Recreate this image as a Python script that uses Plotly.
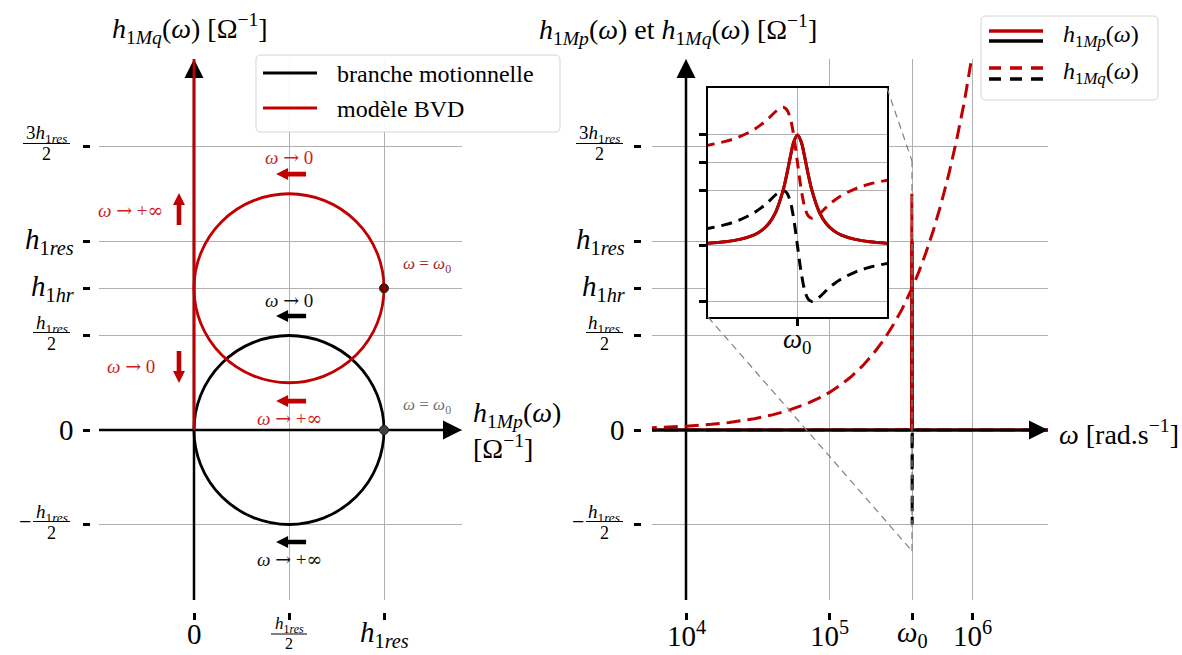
import math
import plotly.graph_objects as go

W, H = 1182, 655
FONT = "Liberation Serif, DejaVu Serif, serif"
RED = "#c00000"
BLACK = "#000000"
GRID = "#b0b0b0"

# ---------------------------------------------------------------- data
OMEGA0 = 3.76e5          # resonance pulsation [rad/s]

# Nyquist plot: circles (centre x, centre y, radius) -> motional, BVD
circle_cx = [0.5, 0.5]
circle_cy = [0.0, 0.75]
circle_r = [0.5, 0.5]
circle_col = [BLACK, RED]
# BVD branch along the imaginary axis (omega -> 0 and omega -> +inf)
bvd_branch_x = [0.0, 0.0]
bvd_branch_y = [0.0, 2.0]
# points reached at omega = omega0
res_pt_x = [1.0, 1.0]
res_pt_y = [0.0, 0.75]

nyq_xtick_vals = [0.0, 0.5, 1.0]
nyq_ytick_vals = [-0.5, 0.0, 0.5, 0.75, 1.0, 1.5]

L_H1RES = "<i>h</i><sub>1<i>res</i></sub>"
L_H1HR = "<i>h</i><sub>1<i>hr</i></sub>"
L_W0 = "<i>ω</i><sub>0</sub>"
nyq_xtick_text = ["0", ("", L_H1RES, "2"), L_H1RES]
nyq_ytick_text = [("−", L_H1RES, "2"), "0", ("", L_H1RES, "2"), L_H1HR, L_H1RES,
                  ("", "3" + L_H1RES, "2")]

# frequency response (units of h_1res)
omega = [5.0e3, 7.0e3, 1.0e4, 1.5e4, 2.0e4, 3.0e4, 4.0e4, 5.0e4, 6.0e4, 7.0e4,
         8.5e4, 1.0e5, 1.2e5, 1.4e5, 1.7e5, 2.0e5, 2.4e5, 2.8e5, 3.2e5, 3.5e5,
         3.74e5, 3.75e5, 3.76e5, 3.77e5, 3.78e5,
         4.2e5, 4.7e5, 5.3e5, 6.0e5, 6.8e5, 7.7e5, 8.7e5, 1.0e6, 1.1e6, 2.0e6, 3.5e6]
h1mp = [0, 0, 0, 0, 0, 0, 0, 0, 0, 0,
        0, 0, 0, 0, 0, 0, 0, 0, 0, 0,
        0, 0.5, 1.0, 0.5, 0,
        0, 0, 0, 0, 0, 0, 0, 0, 0, 0, 0]
h1mq_mot = [0, 0, 0, 0, 0, 0, 0, 0, 0, 0,
            0, 0, 0, 0, 0, 0, 0, 0, 0, 0,
            0, 0.5, 0.0, -0.5, 0,
            0, 0, 0, 0, 0, 0, 0, 0, 0, 0, 0]
h1mq_bvd = [0.010, 0.014, 0.020, 0.030, 0.040, 0.060, 0.080, 0.100, 0.120, 0.140,
            0.170, 0.199, 0.239, 0.279, 0.339, 0.399, 0.479, 0.559, 0.638, 0.698,
            0.746, 1.250, 0.750, 0.250, 0.754,
            0.838, 0.938, 1.057, 1.197, 1.356, 1.536, 1.735, 1.995, 2.194, 3.989, 6.980]

bode_xtick_vals = [1e4, 1e5, OMEGA0, 1e6]
bode_xtick_text = ["10<sup>4</sup>", "10<sup>5</sup>", L_W0, "10<sup>6</sup>"]
bode_ytick_vals = nyq_ytick_vals
bode_ytick_text = nyq_ytick_text

# inset: zoom around omega0 (normalised detuning)
inset_u = [-6.5, -5, -4, -3, -2.5, -2, -1.5, -1, -0.75, -0.5, -0.25, 0,
           0.25, 0.5, 0.75, 1, 1.5, 2, 2.5, 3, 4, 5, 6.5]
inset_h1mp = [0.023, 0.038, 0.059, 0.100, 0.138, 0.200, 0.308, 0.500, 0.640, 0.800, 0.941, 1.000,
              0.941, 0.800, 0.640, 0.500, 0.308, 0.200, 0.138, 0.100, 0.059, 0.038, 0.023]
inset_h1mq_mot = [0.150, 0.192, 0.235, 0.300, 0.345, 0.400, 0.462, 0.500, 0.480, 0.400, 0.235, 0.000,
                  -0.235, -0.400, -0.480, -0.500, -0.462, -0.400, -0.345, -0.300, -0.235, -0.192, -0.150]
inset_h1mq_bvd = [0.900, 0.942, 0.985, 1.050, 1.095, 1.150, 1.212, 1.250, 1.230, 1.150, 0.985, 0.750,
                  0.515, 0.350, 0.270, 0.250, 0.288, 0.350, 0.405, 0.450, 0.515, 0.558, 0.600]
inset_xtick_vals = [0.0]
inset_xtick_text = [L_W0]
inset_ytick_vals = [-0.5, 0.0, 0.5, 0.75, 1.0]

# ---------------------------------------------------------------- geometry
def px_x(px):
    return px / W


def px_y(py):
    return 1 - py / H


XL_RANGE = [-0.5, 1.4105]
Y_RANGE = [-0.8995, 1.963]
XR_RANGE = [3.763, 6.523]
XI_RANGE = [-6.2, 6.2]
YI_RANGE = [-0.64, 1.423]

XL_DOM = [px_x(99), px_x(462)]
XR_DOM = [px_x(652), px_x(1048)]
Y_DOM = [px_y(600), px_y(59)]
XI_DOM = [px_x(708), px_x(887)]
YI_DOM = [px_y(317), px_y(88)]

annotations = []
shapes = []

ARROW = "<span style=\"font-family:DejaVu Serif\">→</span>"
INF = "<span style=\"font-family:DejaVu Serif\">∞</span>"
T_W_TO_0 = "<i>ω</i> " + ARROW + " 0"
T_W_TO_INF = "<i>ω</i> " + ARROW + " +" + INF
T_W_EQ_W0 = "<i>ω</i> = <i>ω</i><sub>0</sub>"


def add_text(x, y, text, size, color=BLACK, xref="paper", yref="paper",
             xanchor="center", yanchor="middle", align="center", yshift=0):
    annotations.append(dict(x=x, y=y, xref=xref, yref=yref, text=text, showarrow=False,
                            font=dict(family=FONT, size=size, color=color),
                            xanchor=xanchor, yanchor=yanchor, align=align, yshift=yshift,
                            borderpad=0))


def poly_path(pts):
    return "M " + " L ".join(f"{a:.2f} {b:.2f}" for a, b in pts) + " Z"


def tri(direction, L=19, hw=9.5):
    if direction == "up":
        return poly_path([(-hw, -L), (hw, -L), (0, 0)])
    return poly_path([(-L, -hw), (-L, hw), (0, 0)])


def fancy(direction, L=30, hl=12, hw=6, bw=2.3):
    if direction == "left":
        pts = [(0, 0), (hl, hw), (hl, bw), (L, bw), (L, -bw), (hl, -bw), (hl, -hw)]
    elif direction == "up":
        pts = [(0, 0), (hw, -hl), (bw, -hl), (bw, -L), (-bw, -L), (-bw, -hl), (-hw, -hl)]
    else:
        pts = [(0, 0), (hw, hl), (bw, hl), (bw, L), (-bw, L), (-bw, hl), (-hw, hl)]
    return poly_path(pts)


def pix_shape(xref, yref, x, y, path, color, layer="above"):
    shapes.append(dict(type="path", xref=xref, yref=yref, xsizemode="pixel", ysizemode="pixel",
                       xanchor=x, yanchor=y, path=path, fillcolor=color,
                       line=dict(width=0), layer=layer))


FRAC_SIZE = 19


def y_tick_labels(yref, vals, texts, right_px, frac_right_px):
    for v, t in zip(vals, texts):
        if isinstance(t, tuple):
            sign, num, den = t
            barw = 47 if num.startswith("3") else 37
            cx = px_x(frac_right_px - barw / 2)
            add_text(cx, v, num, FRAC_SIZE, yref=yref, yshift=12)
            add_text(cx, v, den, FRAC_SIZE - 1, yref=yref, yshift=-8)
            shapes.append(dict(type="line", xref="paper", yref=yref,
                               x0=px_x(frac_right_px - barw), x1=px_x(frac_right_px),
                               ysizemode="pixel", yanchor=v, y0=3, y1=3,
                               line=dict(color=BLACK, width=1.2)))
            if sign:
                add_text(px_x(frac_right_px - barw - 1), v, sign, 22, yref=yref,
                         xanchor="right", yshift=3)
        else:
            add_text(px_x(right_px), v, t, 29, yref=yref, xanchor="right")


def x_tick_labels(xref, vals, texts, log=False):
    for v, t in zip(vals, texts):
        xv = math.log10(v) if log else v
        if isinstance(t, tuple):
            sign, num, den = t
            add_text(xv, px_y(625), num, 17, xref=xref)
            add_text(xv, px_y(643), den, 16, xref=xref)
            shapes.append(dict(type="line", xref=xref, yref="paper", xsizemode="pixel",
                               xanchor=v, x0=-18, x1=18, y0=px_y(634), y1=px_y(634),
                               line=dict(color=BLACK, width=1.2)))
        else:
            add_text(xv, px_y(634), t, 29, xref=xref)


def rounded_box(x0, y0, x1, y1, r=5):
    p = lambda a, b: f"{px_x(a):.5f},{px_y(b):.5f}"
    return (f"M {p(x0 + r, y0)} L {p(x1 - r, y0)} Q {p(x1, y0)} {p(x1, y0 + r)} "
            f"L {p(x1, y1 - r)} Q {p(x1, y1)} {p(x1 - r, y1)} L {p(x0 + r, y1)} "
            f"Q {p(x0, y1)} {p(x0, y1 - r)} L {p(x0, y0 + r)} Q {p(x0, y0)} {p(x0 + r, y0)} Z")


# ---------------------------------------------------------------- traces
traces = []
# left: Nyquist
traces.append(go.Scatter(x=bvd_branch_x, y=bvd_branch_y, mode="lines",
                         line=dict(color=RED, width=2.8), xaxis="x", yaxis="y", hoverinfo="skip"))
traces.append(go.Scatter(x=res_pt_x, y=res_pt_y, mode="markers",
                         marker=dict(color=["#404040", "#7a0000"], size=9,
                                     line=dict(color="#202020", width=1)),
                         xaxis="x", yaxis="y", hoverinfo="skip"))
# right: frequency response
DASH = "14px,7px"
traces.append(go.Scatter(x=omega, y=h1mp, mode="lines", line=dict(color=BLACK, width=3),
                         xaxis="x2", yaxis="y2", hoverinfo="skip"))
traces.append(go.Scatter(x=omega, y=h1mq_mot, mode="lines", line=dict(color=BLACK, width=3, dash=DASH),
                         xaxis="x2", yaxis="y2", hoverinfo="skip"))
traces.append(go.Scatter(x=omega, y=h1mp, mode="lines", line=dict(color=RED, width=3),
                         xaxis="x2", yaxis="y2", hoverinfo="skip"))
traces.append(go.Scatter(x=omega, y=h1mq_bvd, mode="lines", line=dict(color=RED, width=3, dash=DASH),
                         xaxis="x2", yaxis="y2", hoverinfo="skip"))
# inset
traces.append(go.Scatter(x=inset_u, y=inset_h1mp, mode="lines", line=dict(color=BLACK, width=3, shape="spline"),
                         xaxis="x3", yaxis="y3", hoverinfo="skip"))
traces.append(go.Scatter(x=inset_u, y=inset_h1mq_mot, mode="lines",
                         line=dict(color=BLACK, width=3, dash="11px,7px", shape="spline"),
                         xaxis="x3", yaxis="y3", hoverinfo="skip"))
traces.append(go.Scatter(x=inset_u, y=inset_h1mp, mode="lines", line=dict(color=RED, width=3, shape="spline"),
                         xaxis="x3", yaxis="y3", hoverinfo="skip"))
traces.append(go.Scatter(x=inset_u, y=inset_h1mq_bvd, mode="lines",
                         line=dict(color=RED, width=3, dash="11px,7px", shape="spline"),
                         xaxis="x3", yaxis="y3", hoverinfo="skip"))

# ---------------------------------------------------------------- shapes
# left axes (drawn between grid and traces)
shapes.append(dict(type="line", xref="x", yref="y", x0=0, x1=0, y0=Y_RANGE[0], y1=Y_RANGE[1] - 0.05,
                   line=dict(color=BLACK, width=2.5), layer="between"))
shapes.append(dict(type="line", xref="x", yref="y", x0=XL_RANGE[0], x1=XL_RANGE[1] - 0.05, y0=0, y1=0,
                   line=dict(color=BLACK, width=2.5), layer="between"))
pix_shape("x", "y", 0, Y_RANGE[1], tri("up"), BLACK, layer="between")
pix_shape("x", "y", XL_RANGE[1], 0, tri("right"), BLACK, layer="between")
for cx, cy, r, col in zip(circle_cx, circle_cy, circle_r, circle_col):
    shapes.append(dict(type="circle", xref="x", yref="y", x0=cx - r, x1=cx + r, y0=cy - r, y1=cy + r,
                       line=dict(color=col, width=2.8), layer="between"))

# right axes
XR_LO, XR_HI = 10 ** XR_RANGE[0], 10 ** XR_RANGE[1]
shapes.append(dict(type="line", xref="x2", yref="y2", x0=1e4, x1=1e4, y0=Y_RANGE[0], y1=Y_RANGE[1] - 0.05,
                   line=dict(color=BLACK, width=2.5), layer="between"))
pix_shape("x2", "y2", 1e4, Y_RANGE[1], tri("up"), BLACK, layer="between")
shapes.append(dict(type="line", xref="x2", yref="y2", x0=XR_LO, x1=10 ** (XR_RANGE[1] - 0.05), y0=0, y1=0,
                   line=dict(color=BLACK, width=2.5), layer="above"))
pix_shape("x2", "y2", XR_HI, 0, tri("right"), BLACK, layer="above")

# inset marker (mark_inset)
GREY_DASH = dict(color="#808080", width=1.2, dash="7px,5px")
shapes.append(dict(type="line", xref="x2", yref="y2", x0=OMEGA0, x1=OMEGA0, y0=YI_RANGE[0], y1=YI_RANGE[1],
                   line=GREY_DASH, layer="above"))


def x2_paper(v):
    f = (math.log10(v) - XR_RANGE[0]) / (XR_RANGE[1] - XR_RANGE[0])
    return XR_DOM[0] + f * (XR_DOM[1] - XR_DOM[0])


def y2_paper(v):
    f = (v - Y_RANGE[0]) / (Y_RANGE[1] - Y_RANGE[0])
    return Y_DOM[0] + f * (Y_DOM[1] - Y_DOM[0])


shapes.append(dict(type="line", xref="paper", yref="paper", x0=XI_DOM[1], y0=YI_DOM[1],
                   x1=x2_paper(OMEGA0), y1=y2_paper(YI_RANGE[1]), line=GREY_DASH, layer="above"))
shapes.append(dict(type="line", xref="paper", yref="paper", x0=XI_DOM[0], y0=YI_DOM[0],
                   x1=x2_paper(OMEGA0), y1=y2_paper(YI_RANGE[0]), line=GREY_DASH, layer="above"))

# direction arrows on the Nyquist plot
pix_shape("x", "y", 0.432, 1.354, fancy("left"), RED)
pix_shape("x", "y", -0.079, 1.254, fancy("up", L=32), RED)
pix_shape("x", "y", 0.432, 0.603, fancy("left"), BLACK)
pix_shape("x", "y", -0.079, 0.249, fancy("down", L=32), RED)
pix_shape("x", "y", 0.432, 0.153, fancy("left"), RED)
pix_shape("x", "y", 0.432, -0.593, fancy("left"), BLACK)

# ---------------------------------------------------------------- texts
TRED = "#cc2222"
add_text(0.5, 1.444, T_W_TO_0, 19, TRED, xref="x", yref="y")
add_text(-0.332, 1.164, T_W_TO_INF, 19, TRED, xref="x", yref="y")
add_text(1.226, 0.873, T_W_EQ_W0, 17, "#9a2a2a", xref="x", yref="y")
add_text(0.5, 0.688, T_W_TO_0, 19, "#111111", xref="x", yref="y")
add_text(-0.329, 0.339, T_W_TO_0, 19, TRED, xref="x", yref="y")
add_text(0.5, 0.063, T_W_TO_INF, 19, TRED, xref="x", yref="y")
add_text(1.226, 0.125, T_W_EQ_W0, 17, "#707070", xref="x", yref="y")
add_text(0.5, -0.683, T_W_TO_INF, 19, "#111111", xref="x", yref="y")

# axis titles
add_text(px_x(190), px_y(28), "<i>h</i><sub>1<i>Mq</i></sub>(<i>ω</i>) [Ω<sup>−1</sup>]", 28)
add_text(px_x(472), px_y(430), "<i>h</i><sub>1<i>Mp</i></sub>(<i>ω</i>)<br>[Ω<sup>−1</sup>]", 28,
         xanchor="left", align="left")
add_text(px_x(678), px_y(30),
         "<i>h</i><sub>1<i>Mp</i></sub>(<i>ω</i>) et <i>h</i><sub>1<i>Mq</i></sub>(<i>ω</i>) [Ω<sup>−1</sup>]", 28)
add_text(px_x(1058), px_y(432), "<i>ω</i> [rad.s<sup>−1</sup>]", 28, xanchor="left")

# tick labels
y_tick_labels("y", nyq_ytick_vals, nyq_ytick_text, 75, 70)
y_tick_labels("y2", bode_ytick_vals, bode_ytick_text, 626, 623)
x_tick_labels("x", nyq_xtick_vals, nyq_xtick_text)
x_tick_labels("x2", bode_xtick_vals, bode_xtick_text, log=True)
for v, t in zip(inset_xtick_vals, inset_xtick_text):
    add_text(v, px_y(341), t, 27, xref="x3")

# legends
shapes.append(dict(type="path", xref="paper", yref="paper", path=rounded_box(256, 55, 560, 132),
                   fillcolor="rgba(255,255,255,0.9)", line=dict(color="#d4d4d4", width=1), layer="above"))
for yy, col, lab in [(73, BLACK, "branche motionnelle"), (108, RED, "modèle BVD")]:
    shapes.append(dict(type="line", xref="paper", yref="paper", x0=px_x(263), x1=px_x(317),
                       y0=px_y(yy), y1=px_y(yy), line=dict(color=col, width=3), layer="above"))
    add_text(px_x(336), px_y(yy + 1), lab, 24, xanchor="left")

shapes.append(dict(type="path", xref="paper", yref="paper", path=rounded_box(981, 16, 1158, 100),
                   fillcolor="rgba(255,255,255,0.9)", line=dict(color="#d4d4d4", width=1), layer="above"))
for yy, col, dash in [(31, RED, "solid"), (41, BLACK, "solid"), (68, RED, "12px,9px"), (79, BLACK, "12px,9px")]:
    shapes.append(dict(type="line", xref="paper", yref="paper", x0=px_x(989), x1=px_x(1043),
                       y0=px_y(yy), y1=px_y(yy), line=dict(color=col, width=3.5, dash=dash), layer="above"))
add_text(px_x(1062), px_y(36), "<i>h</i><sub>1<i>Mp</i></sub>(<i>ω</i>)", 24, xanchor="left")
add_text(px_x(1062), px_y(73), "<i>h</i><sub>1<i>Mq</i></sub>(<i>ω</i>)", 24, xanchor="left")

# ---------------------------------------------------------------- layout
common_tick = dict(ticks="outside", ticklen=7, tickwidth=3, tickcolor=BLACK, showticklabels=False,
                   showgrid=True, gridcolor=GRID, gridwidth=1.2, zeroline=False, showline=False,
                   automargin=False, fixedrange=True)

layout = go.Layout(
    width=W, height=H, margin=dict(l=0, r=0, t=0, b=0),
    paper_bgcolor="white", plot_bgcolor="white", showlegend=False,
    xaxis=dict(domain=XL_DOM, range=XL_RANGE, anchor="free", position=px_y(612),
               tickvals=nyq_xtick_vals, **common_tick),
    yaxis=dict(domain=Y_DOM, range=Y_RANGE, anchor="free", position=px_x(90),
               tickvals=nyq_ytick_vals, **common_tick),
    xaxis2=dict(type="log", domain=XR_DOM, range=XR_RANGE, anchor="free", position=px_y(612),
                tickvals=bode_xtick_vals, **common_tick),
    yaxis2=dict(domain=Y_DOM, range=Y_RANGE, anchor="free", position=px_x(641),
                tickvals=bode_ytick_vals, **common_tick),
    xaxis3=dict(domain=XI_DOM, range=XI_RANGE, anchor="y3", tickvals=inset_xtick_vals,
                showticklabels=False,
                ticks="outside", ticklen=7, tickwidth=2.5, tickcolor=BLACK,
                showline=True, mirror=True, linecolor=BLACK, linewidth=2,
                showgrid=True, gridcolor=GRID, gridwidth=1.2, zeroline=False,
                automargin=False, fixedrange=True),
    yaxis3=dict(domain=YI_DOM, range=YI_RANGE, anchor="x3", tickvals=inset_ytick_vals,
                showticklabels=False, ticks="outside", ticklen=7, tickwidth=2.5, tickcolor=BLACK,
                showline=True, mirror=True, linecolor=BLACK, linewidth=2,
                showgrid=True, gridcolor=GRID, gridwidth=1.2, zeroline=False,
                automargin=False, fixedrange=True),
    shapes=shapes, annotations=annotations,
)

fig = go.Figure(data=traces, layout=layout)
fig.write_html("out.html", config={"displayModeBar": False},
               post_script="document.body.style.margin='0px';document.body.style.overflow='hidden';")
